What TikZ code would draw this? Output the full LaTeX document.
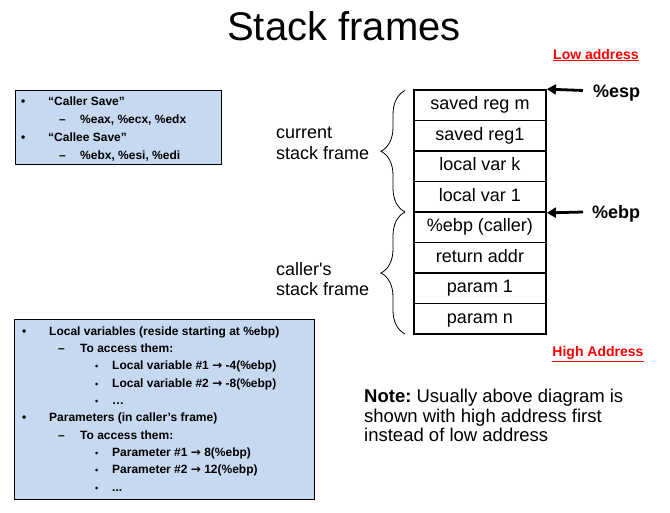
\documentclass[tikz,border=0pt]{standalone}
\usepackage{fontspec}
\setmainfont{Liberation Sans}
\newfontfamily\arrowfont{DejaVu Sans}
\usetikzlibrary{arrows.meta,decorations.pathreplacing}
\definecolor{boxblue}{HTML}{C6D9F1}
\definecolor{lowred}{HTML}{FF0000}
\newcommand{\fs}[2]{\fontsize{#1}{#2}\selectfont}
\newcommand{\rarr}{{\arrowfont\bfseries →}}
\frenchspacing
\tikzset{
  cell/.style={draw, line width=1.8pt, minimum width=132pt, minimum height=30.5pt,
    inner sep=0pt, font=\fs{18}{21}, text height=13pt, text depth=3.5pt},
  infobox/.style={draw, line width=1.2pt, fill=boxblue},
  btxt/.style={anchor=base west, inner sep=0pt, font=\bfseries\fs{12}{14}},
  sbul/.style={anchor=base west, inner sep=0pt, font=\bfseries\fs{9}{14}},
  ptr/.style={line width=2.8pt, -{Triangle[length=9pt,width=10pt]}},
  ptrlabel/.style={anchor=west, inner sep=0pt, font=\bfseries\fs{18}{21}},
  addr/.style={inner sep=0pt, text=lowred, font=\bfseries\fs{14}{16}},
  brc/.style={decorate, decoration={brace, amplitude=24pt}, line width=0.8pt},
  side/.style={anchor=west, inner sep=0pt, align=left, font=\fs{18}{20.5}}
}
\begin{document}
\begin{tikzpicture}[x=1pt,y=-1pt]
\useasboundingbox (0,0) rectangle (670,513);
% title
\node[anchor=base, inner sep=0pt, font=\fs{40}{44}] (title) at (344,41) {Stack frames};
% address labels
\node[addr] (low) at (596,55) {\underline{Low address}};
\node[addr] (high) at (598,354) {\underline{High Address}};
% stack cells
\node[cell] (c1) at (480,105.25) {saved reg m};
\node[cell] (c2) at (480,135.75) {saved reg1};
\node[cell] (c3) at (480,166.25) {local var k};
\node[cell] (c4) at (480,196.75) {local var 1};
\node[cell] (c5) at (480,227.25) {\%ebp (caller)};
\node[cell] (c6) at (480,257.75) {return addr};
\node[cell] (c7) at (480,288.25) {param 1};
\node[cell] (c8) at (480,318.75) {param n};
% pointers
\coordinate (espfrom) at (583,90.5);
\coordinate (ebpfrom) at (583,212);
\draw[ptr] (espfrom) -- (c1.north east);
\draw[ptr] (ebpfrom) -- (c4.south east);
\node[ptrlabel] (esp) at (593,93) {\%esp};
\node[ptrlabel] (ebp) at (592,213.5) {\%ebp};
% braces
\coordinate (b1top) at (405,90.5);
\coordinate (b1bot) at (405,212);
\coordinate (b2top) at (405,212);
\coordinate (b2bot) at (405,334);
\draw[brc] (b1bot) -- (b1top);
\draw[brc] (b2bot) -- (b2top);
\node[side] (cur) at (276,143.5) {current\\stack frame};
\node[side] (callers) at (276,279) {caller\textquotesingle s\\stack frame};
% top-left info box
\node[infobox, minimum width=206pt, minimum height=74pt, anchor=north west, inner sep=0pt] (regbox) at (15,90) {};
\node[btxt] (rb1) at (21,105.3) {•};
\node[btxt] (rt1) at (48,105.3) {“Caller Save”};
\node[btxt] (rd1) at (59,123.3) {–};
\node[btxt] (rt2) at (80,123.3) {\%eax, \%ecx, \%edx};
\node[btxt] (rb2) at (21,141.3) {•};
\node[btxt] (rt3) at (48,141.3) {“Callee Save”};
\node[btxt] (rd2) at (59,159.3) {–};
\node[btxt] (rt4) at (80,159.3) {\%ebx, \%esi, \%edi};
% bottom-left info box
\node[infobox, minimum width=300pt, minimum height=180pt, anchor=north west, inner sep=0pt] (accbox) at (14,319) {};
\node[btxt] (ab1) at (22,335.3) {•};
\node[btxt] (at1) at (49,335.3) {Local variables (reside starting at \%ebp)};
\node[btxt] (ad1) at (58,352.6) {–};
\node[btxt] (at2) at (80,352.6) {To access them:};
\node[sbul] (as1) at (95,369.9) {•};
\node[btxt] (at3) at (112,369.9) {Local variable \#1 \rarr\ -4(\%ebp)};
\node[sbul] (as2) at (95,387.2) {•};
\node[btxt] (at4) at (112,387.2) {Local variable \#2 \rarr\ -8(\%ebp)};
\node[sbul] (as3) at (95,404.5) {•};
\node[btxt] (at5) at (112,404.5) {…};
\node[btxt] (ab2) at (22,421.8) {•};
\node[btxt] (at6) at (49,421.8) {Parameters (in caller’s frame)};
\node[btxt] (ad2) at (58,439.1) {–};
\node[btxt] (at7) at (80,439.1) {To access them:};
\node[sbul] (as4) at (95,456.4) {•};
\node[btxt] (at8) at (112,456.4) {Parameter \#1 \rarr\ 8(\%ebp)};
\node[sbul] (as5) at (95,473.7) {•};
\node[btxt] (at9) at (112,473.7) {Parameter \#2 \rarr\ 12(\%ebp)};
\node[sbul] (as6) at (95,491) {•};
\node[btxt] (at10) at (112,491) {...};
% note
\node[side, font=\fs{18.5}{19.8}] (note) at (364,415.5) {\textbf{Note:} Usually above diagram is\\shown with high address first\\instead of low address};
\end{tikzpicture}
\end{document}
